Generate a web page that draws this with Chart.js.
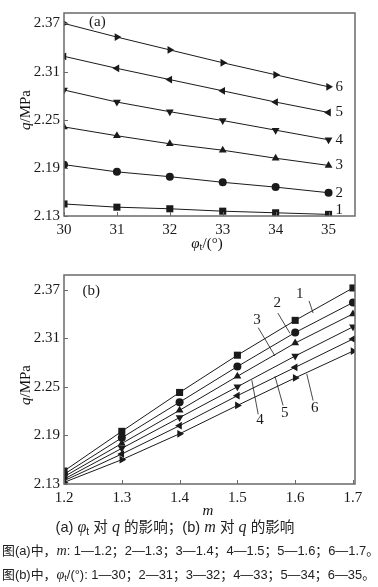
<!DOCTYPE html>
<html><head><meta charset="utf-8">
<script src="https://cdn.jsdelivr.net/npm/chart.js@4"></script>
<style>
body{margin:0;width:378px;height:587px;background:#fff;position:relative;overflow:hidden;font-family:"Liberation Serif",serif;}
canvas{position:absolute;left:0;}
.t{position:absolute;white-space:nowrap;color:#111;line-height:1;}
.ser{font-family:"Liberation Serif",serif;font-size:15px;}
.cap{font-family:"Liberation Sans","Noto Sans CJK SC",sans-serif;font-size:12.9px;color:#222;}
.cap i{font-family:"Liberation Serif",serif;font-size:110%;}
.cap1{font-size:14.6px;}
sub{font-size:70%;vertical-align:-0.25em;line-height:0;}
</style></head><body>
<canvas id="c1" width="378" height="250" style="top:0"></canvas>
<canvas id="c2" width="378" height="258" style="top:262px"></canvas>

<div class="t ser" style="left:25px;top:110px;transform:translate(-50%,-50%) rotate(-90deg)"><i>q</i>/MPa</div>
<div class="t ser" style="left:25px;top:385px;transform:translate(-50%,-50%) rotate(-90deg)"><i>q</i>/MPa</div>
<div class="t ser" style="left:207px;top:243px;transform:translate(-50%,-50%)"><i>φ</i><sub>t</sub>/(°)</div>
<div class="t ser" style="left:208px;top:510px;transform:translate(-50%,-50%)"><i>m</i></div>

<div class="t cap cap1" style="left:175px;top:527px;transform:translate(-50%,-50%)">(a) <i>φ</i><sub>t</sub> 对 <i>q</i> 的影响；(b) <i>m</i> 对 <i>q</i> 的影响</div>
<div class="t cap" style="left:2px;top:550px;transform:translate(0,-50%)">图(a)中，<i>m</i>: 1—1.2；2—1.3；3—1.4；4—1.5；5—1.6；6—1.7。</div>
<div class="t cap" style="left:2px;top:574px;transform:translate(0,-50%)">图(b)中，<i>φ</i><sub>t</sub>/(°): 1—30；2—31；3—32；4—33；5—34；6—35。</div>

<script>
// ---- data ----
const phiTicks = [30, 31, 32, 33, 34, 35];
const mTicks = [1.2, 1.3, 1.4, 1.5, 1.6, 1.7];
const qTicks = [2.13, 2.19, 2.25, 2.31, 2.37];
const seriesNames = ['1', '2', '3', '4', '5', '6'];

// (a) q vs phi_t, one series per m
const qA_m12 = [2.145, 2.141, 2.139, 2.136, 2.134, 2.132];
const qA_m13 = [2.194, 2.185, 2.179, 2.172, 2.166, 2.159];
const qA_m14 = [2.241, 2.230, 2.220, 2.212, 2.202, 2.193];
const qA_m15 = [2.287, 2.272, 2.260, 2.249, 2.237, 2.225];
const qA_m16 = [2.329, 2.314, 2.300, 2.286, 2.272, 2.259];
const qA_m17 = [2.370, 2.353, 2.337, 2.321, 2.306, 2.291];

// (b) q vs m, one series per phi_t
const qB_phi30 = [2.146, 2.195, 2.243, 2.289, 2.332, 2.372];
const qB_phi31 = [2.142, 2.187, 2.231, 2.275, 2.317, 2.354];
const qB_phi32 = [2.139, 2.180, 2.221, 2.263, 2.304, 2.340];
const qB_phi33 = [2.136, 2.174, 2.212, 2.250, 2.288, 2.324];
const qB_phi34 = [2.134, 2.167, 2.202, 2.239, 2.274, 2.309];
const qB_phi35 = [2.132, 2.160, 2.192, 2.227, 2.261, 2.294];

const seriesA = [qA_m12, qA_m13, qA_m14, qA_m15, qA_m16, qA_m17];
const seriesB = [qB_phi30, qB_phi31, qB_phi32, qB_phi33, qB_phi34, qB_phi35];

// ---- styles ----
const markerStyle = ['rect', 'circle', 'triangle', 'triangle', 'triangle', 'triangle'];
const markerRot = [0, 0, 0, 180, 270, 90];
const markerRad = [5, 4, 4.5, 4.5, 4.5, 4.5];
const INK = '#1a1a1a';
const FRAME = '#6a6a6a';
const FONT = '"Liberation Serif", serif';

function makeDatasets(xs, series) {
  return series.map((ys, i) => ({
    label: seriesNames[i],
    data: xs.map((x, j) => ({x: x, y: ys[j]})),
    borderColor: INK, backgroundColor: INK, borderWidth: 1,
    pointStyle: markerStyle[i], rotation: markerRot[i], pointRadius: markerRad[i],
    pointBorderWidth: 0, pointBackgroundColor: INK, tension: 0
  }));
}

const framePlugin = {
  id: 'frameAnno',
  afterDatasetsDraw(chart, args, opts) {
    const {ctx, chartArea: a, scales: {x, y}} = chart;
    ctx.save();
    ctx.strokeStyle = FRAME; ctx.lineWidth = 1.5;
    ctx.strokeRect(a.left, a.top, a.right - a.left, a.bottom - a.top);
    ctx.lineWidth = 1;
    ctx.beginPath();
    x.ticks.forEach(t => { const p = Math.round(x.getPixelForValue(t.value)) + 0.5; ctx.moveTo(p, a.bottom); ctx.lineTo(p, a.bottom - 4); });
    y.ticks.forEach(t => { const p = Math.round(y.getPixelForValue(t.value)) + 0.5; ctx.moveTo(a.left, p); ctx.lineTo(a.left + 4, p); });
    ctx.stroke();
    ctx.fillStyle = INK; ctx.strokeStyle = INK; ctx.lineWidth = 0.8;
    ctx.font = '15px ' + FONT; ctx.textAlign = 'center'; ctx.textBaseline = 'middle';
    (opts.labels || []).forEach(l => ctx.fillText(l.text, x.getPixelForValue(l.x), y.getPixelForValue(l.y)));
    (opts.leaders || []).forEach(l => {
      ctx.beginPath();
      ctx.moveTo(x.getPixelForValue(l.x1), y.getPixelForValue(l.y1));
      ctx.lineTo(x.getPixelForValue(l.x2), y.getPixelForValue(l.y2));
      ctx.stroke();
    });
    ctx.restore();
  }
};

function axisOpts(min, max, ticks, isY, size) {
  return {
    type: 'linear', min: min, max: max,
    afterBuildTicks: s => { s.ticks = ticks.map(v => ({value: v})); },
    afterFit: s => { if (isY) s.width = size; else s.height = size; },
    grid: {display: false, drawTicks: false},
    border: {display: false},
    ticks: {
      color: INK, padding: isY ? 4 : 5, font: {family: FONT, size: 15},
      maxRotation: 0, autoSkip: false,
      callback: v => isY ? v.toFixed(2) : (Number.isInteger(v) ? String(v) : v.toFixed(1))
    }
  };
}

// chart (a)
const labelsA = seriesA.map((s, i) => ({text: seriesNames[i], x: 35.2, y: s[s.length - 1] + (i === 0 ? 0.005 : 0)}));
labelsA.push({text: '(a)', x: 30.63, y: 2.372});

new Chart(document.getElementById('c1'), {
  type: 'line',
  data: {datasets: makeDatasets(phiTicks, seriesA)},
  plugins: [framePlugin],
  options: {
    responsive: false, animation: false, events: [],
    layout: {padding: {top: 1, right: 23, left: 0, bottom: 0}},
    plugins: {legend: {display: false}, tooltip: {enabled: false}, frameAnno: {labels: labelsA}},
    scales: {
      x: axisOpts(30, 35.5, phiTicks, false, 34),
      y: axisOpts(2.13, 2.383, qTicks, true, 64)
    }
  }
});

// chart (b)
const labelsB = [
  {text: '1', x: 1.608, y: 2.365}, {text: '2', x: 1.569, y: 2.353}, {text: '3', x: 1.534, y: 2.332},
  {text: '4', x: 1.539, y: 2.209}, {text: '5', x: 1.582, y: 2.218}, {text: '6', x: 1.634, y: 2.224},
  {text: '(b)', x: 1.247, y: 2.368}
];
const leadersB = [
  {x1: 1.624, y1: 2.356, x2: 1.631, y2: 2.341},
  {x1: 1.570, y1: 2.341, x2: 1.591, y2: 2.316},
  {x1: 1.536, y1: 2.323, x2: 1.565, y2: 2.288},
  {x1: 1.536, y1: 2.216, x2: 1.525, y2: 2.258},
  {x1: 1.579, y1: 2.227, x2: 1.565, y2: 2.263},
  {x1: 1.631, y1: 2.233, x2: 1.620, y2: 2.266}
];

new Chart(document.getElementById('c2'), {
  type: 'line',
  data: {datasets: makeDatasets(mTicks, seriesB)},
  plugins: [framePlugin],
  options: {
    responsive: false, animation: false, events: [],
    layout: {padding: {top: 6, right: 23, left: 0, bottom: 0}},
    plugins: {legend: {display: false}, tooltip: {enabled: false}, frameAnno: {labels: labelsB, leaders: leadersB}},
    scales: {
      x: axisOpts(1.2, 1.7035, mTicks, false, 36),
      y: axisOpts(2.13, 2.388, qTicks, true, 64)
    }
  }
});
</script>
</body></html>
